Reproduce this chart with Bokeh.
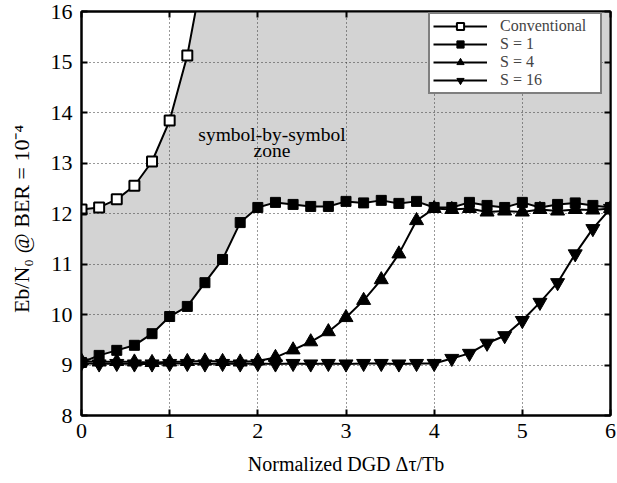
from bokeh.plotting import figure
from bokeh.models import Range1d, LinearAxis, Legend, LegendItem, Label, FixedTicker
from bokeh.embed import file_html
from bokeh.resources import INLINE

# ---------------- data ----------------
x_conv = [0.0, 0.2, 0.4, 0.6, 0.8, 1.0, 1.2, 1.4]
y_conv = [12.08, 12.12, 12.28, 12.55, 13.03, 13.84, 15.13, 17.0]

x_s = [0.0, 0.2, 0.4, 0.6, 0.8, 1.0, 1.2, 1.4, 1.6, 1.8, 2.0,
       2.2, 2.4, 2.6, 2.8, 3.0, 3.2, 3.4, 3.6, 3.8, 4.0,
       4.2, 4.4, 4.6, 4.8, 5.0, 5.2, 5.4, 5.6, 5.8, 6.0]
y_s1 = [9.05, 9.19, 9.29, 9.39, 9.62, 9.96, 10.16, 10.63, 11.09, 11.82, 12.12,
        12.22, 12.18, 12.14, 12.14, 12.24, 12.21, 12.26, 12.20, 12.24, 12.12,
        12.12, 12.22, 12.16, 12.12, 12.22, 12.12, 12.18, 12.21, 12.16, 12.12]
y_s4 = [9.08, 9.06, 9.07, 9.06, 9.05, 9.06, 9.07, 9.08, 9.07, 9.06, 9.08,
        9.15, 9.30, 9.46, 9.66, 9.94, 10.28, 10.69, 11.20, 11.86, 12.10,
        12.08, 12.10, 12.03, 12.05, 12.03, 12.08, 12.05, 12.08, 12.07, 12.10]
y_s16 = [9.04, 9.02, 9.03, 9.02, 9.02, 9.03, 9.03, 9.02, 9.03, 9.02, 9.03,
         9.02, 9.03, 9.02, 9.03, 9.02, 9.03, 9.03, 9.02, 9.03, 9.03,
         9.13, 9.23, 9.43, 9.58, 9.88, 10.24, 10.63, 11.20, 11.70, 12.10]

series_labels = ["Conventional", "S = 1", "S = 4", "S = 16"]
x_ticks = [0, 1, 2, 3, 4, 5, 6]
y_ticks = [8, 9, 10, 11, 12, 13, 14, 15, 16]
X_RANGE = (0, 6)
Y_RANGE = (8, 16)
x_label = "Normalized DGD \u0394\u03c4/Tb"
y_label = "Eb/N\u2080  @  BER = 10\u207b\u2074"
zone_text = ["symbol-by-symbol", "zone"]

FONT = "Liberation Serif"

# frame geometry in pixels
FL, FR, FT, FB = 81, 610, 11, 415
W, H = 617, 483


def dx(px):
    return X_RANGE[0] + (px - FL) / (FR - FL) * (X_RANGE[1] - X_RANGE[0])


def dy(py):
    return Y_RANGE[1] - (py - FT) / (FB - FT) * (Y_RANGE[1] - Y_RANGE[0])


p = figure(width=W, height=H, output_backend="svg", toolbar_location=None,
           x_range=Range1d(*X_RANGE), y_range=Range1d(*Y_RANGE),
           min_border_left=FL, min_border_right=W - FR,
           min_border_top=FT, min_border_bottom=H - FB)
p.background_fill_color = "white"
p.border_fill_color = "white"
p.outline_line_color = "black"
p.outline_line_width = 2

# shaded symbol-by-symbol zone: between conventional curve and S=1 curve
zone_x = x_conv + [x_s[-1]] + x_s[::-1]
zone_y = y_conv + [y_conv[-1]] + y_s1[::-1]
p.patch(zone_x, zone_y, fill_color="#d3d3d3", line_color=None, level="image")

# axes
for ax in (p.xaxis[0], p.yaxis[0]):
    ax.axis_line_width = 2
    ax.axis_line_color = "black"
    ax.major_tick_in = 6
    ax.major_tick_out = 0
    ax.minor_tick_line_color = None
    ax.major_tick_line_width = 2
    ax.major_label_text_font = FONT
    ax.major_label_text_font_size = "22px"
    ax.major_label_text_color = "black"
    ax.axis_label_text_font = FONT
    ax.axis_label_text_font_style = "normal"
    ax.axis_label_text_color = "black"
p.xaxis[0].ticker = FixedTicker(ticks=x_ticks)
p.yaxis[0].ticker = FixedTicker(ticks=y_ticks)
p.xaxis[0].major_label_standoff = 8
p.yaxis[0].major_label_standoff = 9
p.xaxis[0].axis_label = x_label
p.yaxis[0].axis_label = y_label
p.xaxis[0].axis_label_text_font_size = "20px"
p.yaxis[0].axis_label_text_font_size = "22px"
p.xaxis[0].axis_label_standoff = 12
p.yaxis[0].axis_label_standoff = 14

top_ax = LinearAxis(ticker=FixedTicker(ticks=x_ticks))
right_ax = LinearAxis(ticker=FixedTicker(ticks=y_ticks))
for ax in (top_ax, right_ax):
    ax.axis_line_width = 2
    ax.major_tick_in = 6
    ax.major_tick_out = 0
    ax.major_tick_line_width = 2
    ax.minor_tick_line_color = None
    ax.major_label_text_font_size = "0px"
    ax.major_label_text_color = None
    ax.major_label_standoff = 0
p.add_layout(top_ax, "above")
p.add_layout(right_ax, "right")

# grid
p.xgrid.ticker = FixedTicker(ticks=x_ticks)
p.ygrid.ticker = FixedTicker(ticks=y_ticks)
for g in (p.xgrid, p.ygrid):
    g.grid_line_color = "#333333"
    g.grid_line_dash = "1 3"
    g.grid_line_width = 1

# series
l0 = p.line(x_conv, y_conv, line_color="black", line_width=2)
m0 = p.scatter(x_conv, y_conv, marker="square", size=10, fill_color="white",
               line_color="black", line_width=2)
l1 = p.line(x_s, y_s1, line_color="black", line_width=2)
m1 = p.scatter(x_s, y_s1, marker="square", size=10, fill_color="black",
               line_color="black", line_width=1)
l2 = p.line(x_s, y_s4, line_color="black", line_width=2)
m2 = p.scatter(x_s, y_s4, marker="triangle", size=14, fill_color="black",
               line_color="black", line_width=1)
l3 = p.line(x_s, y_s16, line_color="black", line_width=2)
m3 = p.scatter(x_s, y_s16, marker="inverted_triangle", size=14, fill_color="black",
               line_color="black", line_width=1)

legend = Legend(items=[
    LegendItem(label=series_labels[0], renderers=[l0, m0]),
    LegendItem(label=series_labels[1], renderers=[l1, m1]),
    LegendItem(label=series_labels[2], renderers=[l2, m2]),
    LegendItem(label=series_labels[3], renderers=[l3, m3]),
], location=(428 - FL, FB - 94))
legend.border_line_color = "black"
legend.border_line_width = 2
legend.background_fill_color = "white"
legend.background_fill_alpha = 1.0
legend.label_text_font = FONT
legend.label_text_font_size = "16px"
legend.glyph_width = 54
legend.glyph_height = 18
legend.label_height = 18
legend.label_width = 97
legend.label_standoff = 13
legend.padding = 3
legend.spacing = 0
legend.margin = 0
p.add_layout(legend, "center")

# zone text
for txt, py in zip(zone_text, (134, 150)):
    p.add_layout(Label(x=dx(271.5), y=dy(py), text=txt, text_font=FONT,
                       text_font_size="19.5px", text_align="center",
                       text_baseline="alphabetic", text_color="black"))

open("out.html", "w").write(file_html(p, INLINE))
